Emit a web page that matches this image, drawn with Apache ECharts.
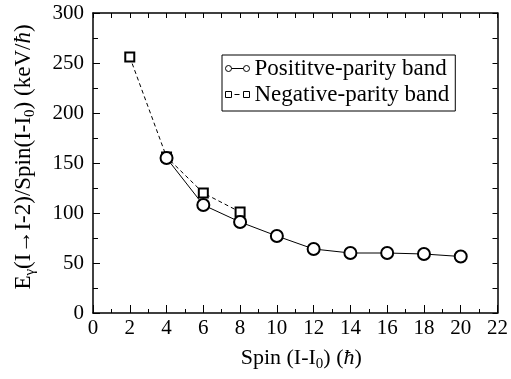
<!DOCTYPE html>
<html>
<head>
<meta charset="utf-8">
<script src="https://cdn.jsdelivr.net/npm/echarts@6/dist/echarts.min.js"></script>
<style>
  html, body { margin: 0; padding: 0; background: #fff; }
  #chart { width: 511px; height: 379px; }
</style>
</head>
<body>
<div id="chart"></div>
<script>
// spin values (I - I0) and E_gamma / spin ratios
const posSpin = [4, 6, 8, 10, 12, 14, 16, 18, 20]
const posVals = [155, 108, 91, 77, 64, 60, 60, 59, 56.5]
const negSpin = [2, 4, 6, 8]
const negVals = [256, 156, 120, 101]

const serif = '"Liberation Serif", "DejaVu Serif", serif'

const pair = (xs, ys) => xs.map((x, i) => [x, ys[i]])

const makeRich = (size) => ({
  a: { fontFamily: serif, fontSize: size, color: '#000' },
  i: { fontFamily: serif, fontSize: size, fontStyle: 'italic', color: '#000' },
  s: { fontFamily: serif, fontSize: 15, color: '#000', padding: [13, 0, 0, 0] }
})

// legend glyphs: symbol - line - symbol
const circIcon = 'path://M0,3.5A3,3,0,1,1,6,3.5A3,3,0,1,1,0,3.5ZM6,3.5L18,3.5M18,3.5A3,3,0,1,1,24,3.5A3,3,0,1,1,18,3.5Z'
const rectIcon = 'path://M0,0.5L6,0.5L6,6.5L0,6.5ZM9,3.5L14,3.5M18,0.5L24,0.5L24,6.5L18,6.5Z'
const iconStyle = { color: '#fff', borderColor: '#000', borderWidth: 1 }

const chart = echarts.init(document.getElementById('chart'))

const option = {
  animation: false,
  backgroundColor: '#fff',
  grid: { left: 93, right: 10, top: 13, bottom: 66 },
  legend: {
    left: 222, top: 55,
    orient: 'vertical',
    itemWidth: 24, itemHeight: 7, itemGap: 3,
    padding: [2, 6, 5, 3],
    borderColor: '#000', borderWidth: 1,
    backgroundColor: '#fff',
    textStyle: { fontFamily: serif, fontSize: 23, lineHeight: 22, color: '#000' },
    data: [
      { name: 'Posititve-parity band', icon: circIcon, itemStyle: iconStyle },
      { name: 'Negative-parity band', icon: rectIcon, itemStyle: iconStyle }
    ]
  },
  xAxis: [{
    type: 'value', min: 0, max: 22, interval: 2,
    name: '{a|Spin (I-I}{s|0}{a|) (}{i|ħ}{a|)}',
    nameLocation: 'middle', nameGap: 31,
    nameTextStyle: { rich: makeRich(22), padding: [0, 0, 0, 12] },
    axisLine: { onZero: false, lineStyle: { color: '#000', width: 1.5 } },
    axisTick: { inside: true, length: 8, lineStyle: { color: '#000' } },
    minorTick: { show: true, splitNumber: 2, length: 4, lineStyle: { color: '#000' } },
    axisLabel: { fontFamily: serif, fontSize: 21, color: '#000', margin: 5 },
    splitLine: { show: false }
  }, {
    type: 'value', position: 'top', min: 0, max: 22, interval: 1,
    axisLine: { onZero: false, lineStyle: { color: '#000', width: 1.5 } },
    axisTick: { inside: true, length: 5, lineStyle: { color: '#000' } },
    axisLabel: { show: false },
    splitLine: { show: false }
  }],
  yAxis: [{
    type: 'value', min: 0, max: 300, interval: 50,
    name: '{a|E}{s|γ}{a|(I→I-2)/Spin(I-I}{s|0}{a|) (keV/}{i|ħ}{a|)}',
    nameLocation: 'middle', nameGap: 55, nameRotate: 90,
    nameTextStyle: { rich: makeRich(23), padding: [0, 0, 0, 12] },
    axisLine: { onZero: false, lineStyle: { color: '#000', width: 1.5 } },
    axisTick: { inside: true, length: 7, lineStyle: { color: '#000' } },
    minorTick: { show: true, splitNumber: 2, length: 5, lineStyle: { color: '#000' } },
    axisLabel: { fontFamily: serif, fontSize: 21, color: '#000', margin: 9 },
    splitLine: { show: false }
  }, {
    type: 'value', position: 'right', min: 0, max: 300, interval: 25,
    axisLine: { onZero: false, lineStyle: { color: '#000', width: 1.5 } },
    axisTick: { inside: true, length: 5, lineStyle: { color: '#000' } },
    axisLabel: { show: false },
    splitLine: { show: false }
  }],
  series: [{
    name: 'Negative-parity band',
    type: 'line',
    data: pair(negSpin, negVals),
    symbol: 'emptyRect', symbolSize: 9,
    lineStyle: { color: '#000', width: 1, type: [4, 3] },
    itemStyle: { color: '#000', borderWidth: 1 }
  }, {
    name: 'Posititve-parity band',
    type: 'line',
    data: pair(posSpin, posVals),
    symbol: 'emptyCircle', symbolSize: 12,
    lineStyle: { color: '#000', width: 1 },
    itemStyle: { color: '#000', borderWidth: 1 }
  }]
}

chart.setOption(option)
</script>
</body>
</html>
